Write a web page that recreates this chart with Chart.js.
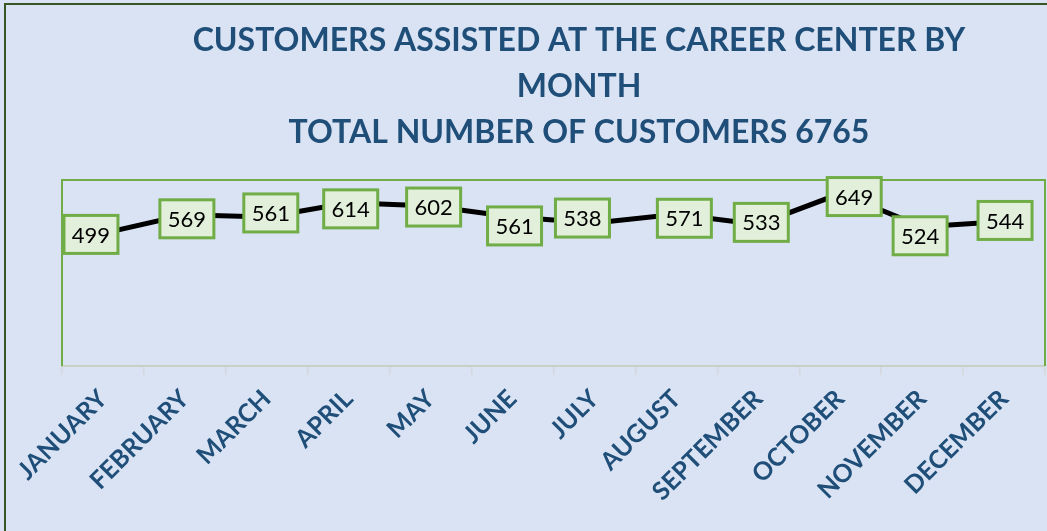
<!DOCTYPE html>
<html><head><meta charset="utf-8">
<script src="https://cdn.jsdelivr.net/npm/chart.js@4.4.0/dist/chart.umd.min.js"></script>
<style>
html,body{margin:0;padding:0;background:#dae3f3;}
#wrap{position:relative;width:1047px;height:531px;background:#dae3f3;overflow:hidden;}
#frame{position:absolute;left:4px;top:3px;width:1100px;height:600px;border-left:2px solid #375623;border-top:2px solid #375623;pointer-events:none;}
canvas{position:absolute;left:0;top:0;}
</style></head><body>
<div id="wrap"><canvas id="c" width="1047" height="531"></canvas><div id="frame"></div></div>
<script>
const titleLines = ['CUSTOMERS ASSISTED AT THE CAREER CENTER BY', 'MONTH', 'TOTAL NUMBER OF CUSTOMERS 6765'];
const months = ['JANUARY','FEBRUARY','MARCH','APRIL','MAY','JUNE','JULY','AUGUST','SEPTEMBER','OCTOBER','NOVEMBER','DECEMBER'];
const customers = [499, 569, 561, 614, 602, 561, 538, 571, 533, 649, 524, 544];
const yMin = 0;
const yMax = 700;

const TITLE_COLOR = '#1f4e79';

const titlePlugin = {
  id: 'titlePlugin',
  afterDraw(chart) {
    const ctx = chart.ctx;
    ctx.save();
    ctx.fillStyle = TITLE_COLOR;
    ctx.font = 'bold 32px Lato';
    ctx.textAlign = 'center';
    ctx.textBaseline = 'alphabetic';
    const ys = [51, 97, 143];
    titleLines.forEach((t, i) => ctx.fillText(t, 579, ys[i]));
    ctx.restore();
  }
};

const borderPlugin = {
  id: 'borderPlugin',
  beforeDatasetsDraw(chart) {
    const {ctx, chartArea: a} = chart;
    ctx.save();
    ctx.strokeStyle = '#70ad47';
    ctx.lineWidth = 2;
    ctx.beginPath();
    ctx.moveTo(a.left, a.bottom);
    ctx.lineTo(a.left, a.top);
    ctx.lineTo(a.right, a.top);
    ctx.lineTo(a.right, a.bottom);
    ctx.stroke();
    ctx.restore();
  }
};

// label box offsets (styling only)
const labelShift = [[-12,1],[2,4],[4,-4],[2,6],[3,1],[2,9],[-12,-5],[8,4],[3,-2],[14,3],[-2,9],[1,-1]];

const labelPlugin = {
  id: 'labelPlugin',
  afterDatasetsDraw(chart) {
    const ctx = chart.ctx;
    const meta = chart.getDatasetMeta(0);
    ctx.save();
    ctx.font = '22px Lato';
    ctx.textAlign = 'center';
    ctx.textBaseline = 'middle';
    meta.data.forEach((pt, i) => {
      const w = 54, h = 38;
      const cx = pt.x + labelShift[i][0];
      const cy = pt.y + labelShift[i][1];
      ctx.fillStyle = '#e2efda';
      ctx.fillRect(cx - w/2, cy - h/2, w, h);
      ctx.strokeStyle = '#70ad47';
      ctx.lineWidth = 3;
      ctx.strokeRect(cx - w/2, cy - h/2, w, h);
      ctx.fillStyle = '#000';
      ctx.fillText(String(customers[i]), cx, cy + 1);
    });
    ctx.restore();
  }
};

new Chart(document.getElementById('c'), {
  type: 'line',
  data: {
    labels: months,
    datasets: [{
      data: customers,
      borderColor: '#000',
      borderWidth: 5,
      pointRadius: 0,
      tension: 0,
      fill: false
    }]
  },
  options: {
    responsive: false,
    animation: false,
    layout: {padding: {left: 62, right: 2, top: 180, bottom: 0}},
    plugins: {legend: {display: false}, title: {display: false}, tooltip: {enabled: false}},
    scales: {
      x: {
        offset: true,
        grid: {offset: true, drawOnChartArea: false, drawTicks: true, tickLength: 9, color: '#d4d8dc', lineWidth: 1.5},
        border: {display: true, color: '#c9d0c4', width: 2},
        ticks: {
          autoSkip: false, maxRotation: 45, minRotation: 45,
          font: {family: 'Lato', weight: 'bold', size: 25},
          color: TITLE_COLOR, padding: 9
        },
        afterFit(s) { s.height = 165; }
      },
      y: {display: false, min: yMin, max: yMax}
    }
  },
  plugins: [borderPlugin, labelPlugin, titlePlugin]
});
</script>
</body></html>
